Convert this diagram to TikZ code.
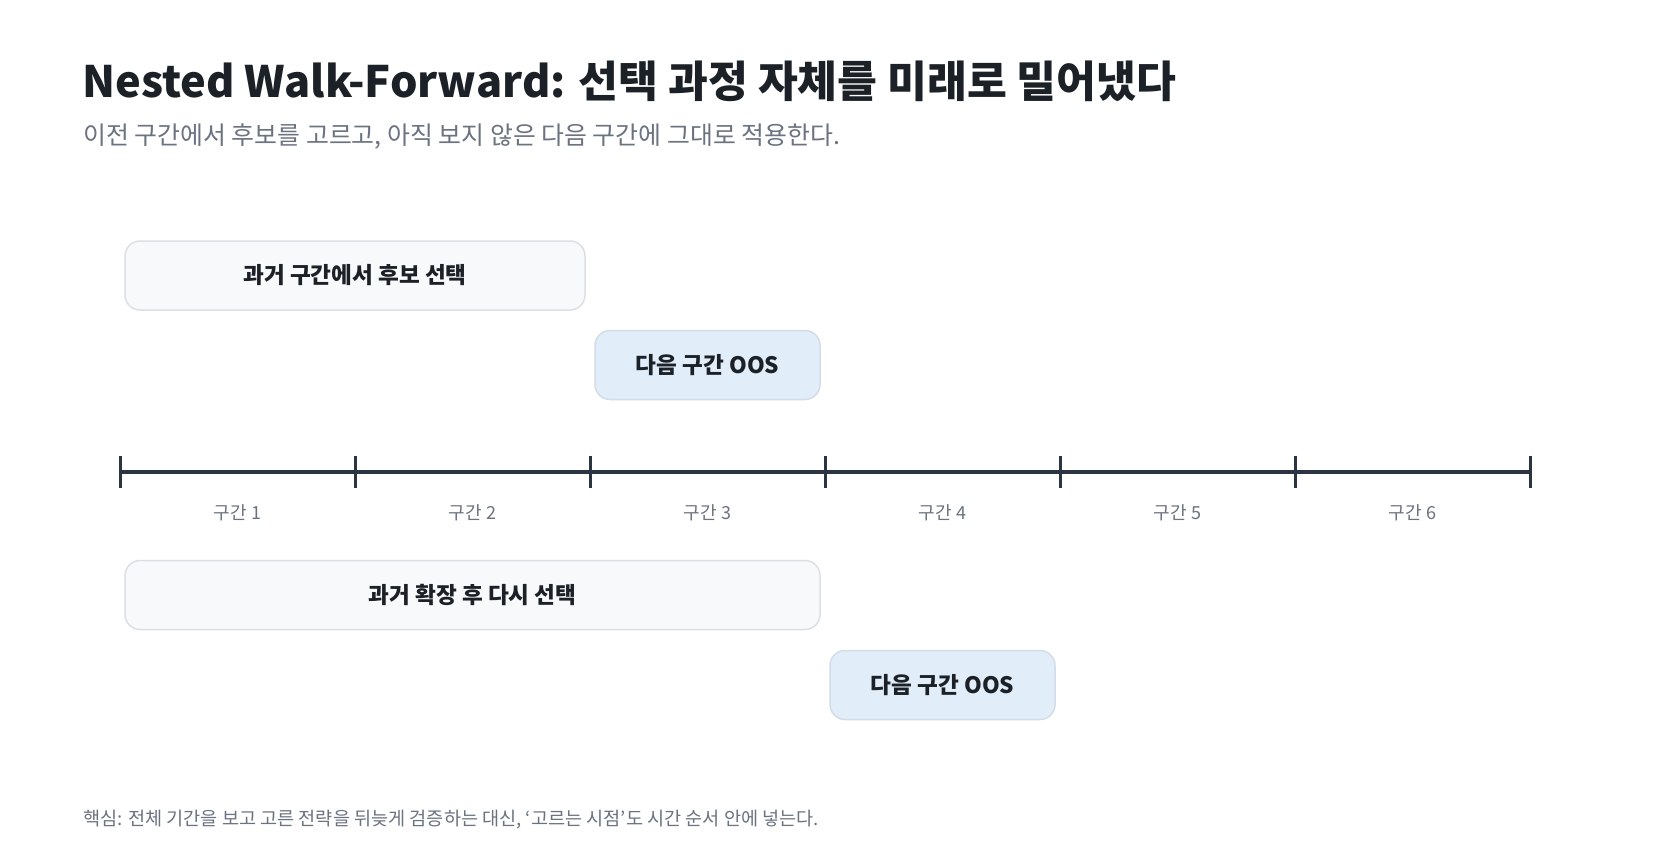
\documentclass[tikz,border=0pt]{standalone}
\usepackage{fontspec}
\setmainfont{Noto Sans CJK KR}
\definecolor{titlec}{HTML}{1C2127}
\definecolor{mutedc}{HTML}{6B7280}
\definecolor{axisc}{HTML}{2B3441}
\definecolor{pastfill}{HTML}{F8F9FB}
\definecolor{paststroke}{HTML}{DCE0E6}
\definecolor{oosfill}{HTML}{E1EDF8}
\definecolor{oosstroke}{HTML}{D4DDE7}
\begin{document}
\begin{tikzpicture}[x=1pt,y=-1pt,
  titletext/.style={anchor=west,inner sep=0,text=titlec,font=\fontsize{43.3}{50}\selectfont\bfseries},
  subtext/.style={anchor=west,inner sep=0,text=mutedc,font=\fontsize{24.9}{30}\selectfont},
  foottext/.style={anchor=west,inner sep=0,text=mutedc,font=\fontsize{18.6}{22}\selectfont},
  seglabel/.style={inner sep=0,text=mutedc,font=\fontsize{18}{22}\selectfont},
  barbase/.style={draw,line width=1.5pt,rounded corners=15pt,inner sep=0,text=titlec,
    font=\fontsize{22.6}{27}\selectfont\bfseries,minimum height=69pt},
  pastbox/.style={barbase,fill=pastfill,draw=paststroke},
  oosbox/.style={barbase,fill=oosfill,draw=oosstroke},
  axisline/.style={draw=axisc,line width=4pt},
  tickline/.style={draw=axisc,line width=3pt}
]
\path[fill=white,use as bounding box] (0,0) rectangle (1665,867);

\node[titletext] (title) at (82,81.5) {Nested Walk-Forward: 선택 과정 자체를 미래로 밀어냈다};
\node[subtext] (subtitle) at (83,137) {이전 구간에서 후보를 고르고, 아직 보지 않은 다음 구간에 그대로 적용한다.};

% timeline
\foreach \i in {0,...,6} \coordinate (t\i) at (120+235*\i,471.5);
\draw[axisline] (t0) -- (t6);
\foreach \i in {0,...,6} \draw[tickline] (t\i) ++(0,-16) -- ++(0,32);
\foreach \i in {1,...,6} \node[seglabel] (lab\i) at (2.5+235*\i,512.5) {구간 \i};

% boxes
\node[pastbox,minimum width=460pt] (sel1) at (355,275.5) {과거 구간에서 후보 선택};
\node[oosbox,minimum width=225pt] (oos1) at (707.5,365) {다음 구간 OOS};
\node[pastbox,minimum width=695pt] (sel2) at (472.5,595) {과거 확장 후 다시 선택};
\node[oosbox,minimum width=225pt] (oos2) at (942.5,685) {다음 구간 OOS};

\node[foottext] (foot) at (83,820) {핵심: 전체 기간을 보고 고른 전략을 뒤늦게 검증하는 대신, ‘고르는 시점’도 시간 순서 안에 넣는다.};
\end{tikzpicture}
\end{document}
